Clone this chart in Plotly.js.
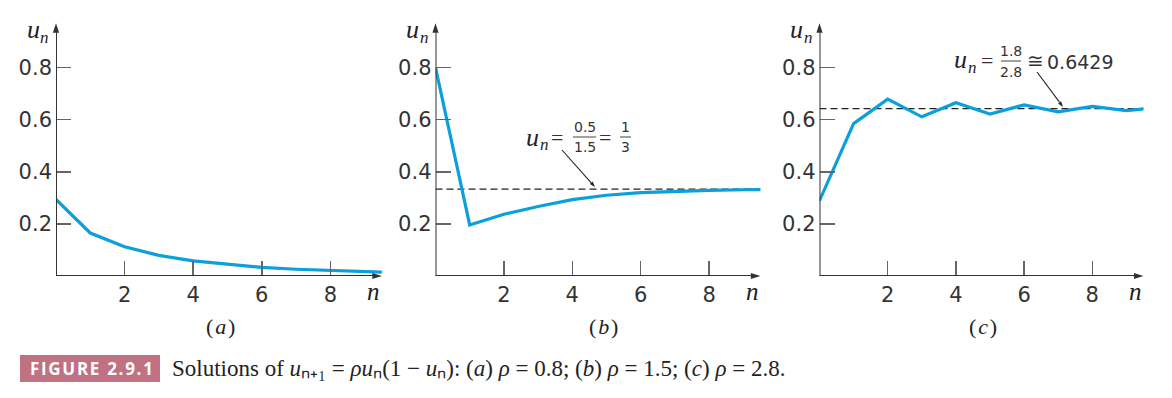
<!DOCTYPE html>
<html>
<head>
<meta charset="utf-8">
<script src="https://cdn.plot.ly/plotly-3.0.1.min.js"></script>
<style>html,body{margin:0;padding:0;background:#fff;}#chart{width:1172px;height:398px;}</style>
</head>
<body>
<div id="chart"></div>
<script>
// Data
const n = [0, 1, 2, 3, 4, 5, 6, 7, 8, 9, 10];
const uA = [0.294, 0.165, 0.112, 0.079, 0.058, 0.044, 0.033, 0.026, 0.020, 0.016, 0.0125];
const uB = [0.800, 0.196, 0.237, 0.267, 0.293, 0.310, 0.320, 0.326, 0.329, 0.331, 0.332];
const uC = [0.289, 0.585, 0.679, 0.611, 0.665, 0.622, 0.657, 0.630, 0.651, 0.635, 0.647];
const eqB = 1 / 3;
const eqC = 1.8 / 2.8;
const xTicks = [2, 4, 6, 8];
const yTicks = [0.2, 0.4, 0.6, 0.8];
const yTickText = ['0.2', '0.4', '0.6', '0.8'];
const panelLabels = ['(\u200a<i>a</i>\u200a)', '(\u200a<i>b</i>\u200a)', '(\u200a<i>c</i>\u200a)'];

const W = 1172, H = 398;
const px = x => x / W;
const py = y => 1 - y / H;

const XMAX = 9.5, YMAX = 0.97;
const yBottom = 276, yUnit = 260.5, yTop = yBottom - YMAX * yUnit;
const panels = [
  {x0: 56, xu: 34.3, u: uA, lab: 220},
  {x0: 435.5, xu: 34.2, u: uB, lab: 603},
  {x0: 819.5, xu: 34.1, u: uC, lab: 983}
];

const lineColor = '#0b9fdb';
const axisColor = '#333333';
const sans = 'DejaVu Sans, Verdana, sans-serif';
const serif = 'Liberation Serif, Times New Roman, serif';

const data = [];
const layout = {
  width: W, height: H,
  margin: {l: 0, r: 0, t: 0, b: 0},
  paper_bgcolor: '#fff', plot_bgcolor: 'rgba(0,0,0,0)',
  showlegend: false,
  annotations: [], shapes: []
};

function txt(x, y, t, size, fam, anchor, color) {
  layout.annotations.push({x: px(x), y: py(y), xref: 'paper', yref: 'paper', text: t,
    showarrow: false, xanchor: anchor || 'center', yanchor: 'middle',
    font: {family: fam || sans, size: size, color: color || '#333'}});
}
// italic u with subscript n, drawn as two texts
function uN(xc, yc) {
  txt(xc, yc, '<i>u</i>', 26, serif, 'center', '#222');
  txt(xc + 11.5, yc + 7, '<i>n</i>', 17, serif, 'center', '#222');
}

panels.forEach((p, i) => {
  const sfx = i === 0 ? '' : String(i + 1);
  const xr = 'x' + sfx, yr = 'y' + sfx;
  p.x1 = p.x0 + XMAX * p.xu;
  p.xr = xr; p.yr = yr;
  data.push({
    x: n, y: p.u, xaxis: xr, yaxis: yr,
    type: 'scatter', mode: 'lines',
    line: {color: lineColor, width: 3.2}, hoverinfo: 'skip'
  });
  layout['xaxis' + sfx] = {
    domain: [px(p.x0), px(p.x1)], range: [0, XMAX], anchor: yr,
    showgrid: false, zeroline: false, showline: false,
    tickmode: 'array', tickvals: xTicks, ticktext: xTicks.map(String),
    ticks: 'inside', ticklen: 15, tickwidth: 1.5, tickcolor: '#666',
    tickfont: {family: sans, size: 21, color: '#333'}, fixedrange: true, ticklabelstandoff: 4
  };
  layout['yaxis' + sfx] = {
    domain: [py(yBottom), py(yTop)], range: [0, YMAX], anchor: xr,
    showgrid: false, zeroline: false, showline: false,
    tickmode: 'array', tickvals: yTicks, ticktext: yTickText,
    ticks: 'inside', ticklen: 15, tickwidth: 1.5, tickcolor: '#666',
    tickfont: {family: sans, size: 21, color: '#333'}, fixedrange: true, ticklabelstandoff: 3
  };
  // axes lines
  layout.shapes.push({type: 'line', xref: xr, yref: yr, x0: 0, x1: XMAX * 0.985, y0: 0, y1: 0,
    line: {color: axisColor, width: 2}});
  layout.shapes.push({type: 'line', xref: xr, yref: yr, x0: 0, x1: 0, y0: 0, y1: YMAX * 0.985,
    line: {color: axisColor, width: 2}});
  // arrowheads
  data.push({
    x: [XMAX, 0], y: [0, YMAX], xaxis: xr, yaxis: yr, type: 'scatter', mode: 'markers',
    cliponaxis: false, hoverinfo: 'skip',
    marker: {symbol: 'arrow', size: 10, angle: [90, 0], color: axisColor, line: {width: 0}}
  });
  // axis labels
  uN(p.x0 - 23, 30);
  txt(p.x1 - 8, 291, '<i>n</i>', 25, serif, 'center', '#222');
  txt(p.lab, 326, panelLabels[i], 22, serif, 'center', '#222');
});

// dashed equilibrium lines
layout.shapes.push({type: 'line', xref: 'x2', yref: 'y2', x0: 0, x1: XMAX, y0: eqB, y1: eqB,
  line: {color: '#222', width: 1.2, dash: '7px,4px'}, layer: 'below'});
layout.shapes.push({type: 'line', xref: 'x3', yref: 'y3', x0: 0, x1: XMAX, y0: eqC, y1: eqC,
  line: {color: '#222', width: 1.2, dash: '7px,4px'}, layer: 'below'});

function bar(x0, x1, y) {
  layout.shapes.push({type: 'line', xref: 'paper', yref: 'paper', x0: px(x0), x1: px(x1),
    y0: py(y), y1: py(y), line: {color: '#444', width: 1}});
}
function pointer(p, xt, yt, xh, yh) {
  const dx = xh - xt, dy = yh - yt, L = Math.hypot(dx, dy);
  const back = 6;
  const xb = xh - dx / L * back, yb = yh - dy / L * back;
  layout.shapes.push({type: 'line', xref: 'paper', yref: 'paper', x0: px(xt), y0: py(yt),
    x1: px(xb), y1: py(yb), line: {color: '#222', width: 1.1}});
  const ang = Math.atan2(dx, -dy) * 180 / Math.PI;
  data.push({
    x: [(xh - p.x0) / p.xu], y: [(yBottom - yh) / yUnit], xaxis: p.xr, yaxis: p.yr,
    type: 'scatter', mode: 'markers', cliponaxis: false, hoverinfo: 'skip',
    marker: {symbol: 'arrow', size: 6, angle: ang, color: '#222', line: {width: 0}}
  });
}

// annotation (b): u_n = 0.5/1.5 = 1/3
uN(532.5, 137);
txt(557, 137, '=', 22, serif);
txt(584.5, 127, '0.5', 14);
bar(573, 596, 137);
txt(584.5, 146.5, '1.5', 14);
txt(605, 137, '=', 22, serif);
txt(625.5, 127, '1', 14);
bar(620, 631, 137);
txt(625.5, 146.5, '3', 14);
pointer(panels[1], 562, 150, 595, 187);

// annotation (c): u_n = 1.8/2.8 ≅ 0.6429
uN(960.5, 60);
txt(987, 61, '=', 22, serif);
txt(1011, 51, '1.8', 14);
bar(1001, 1021, 61);
txt(1011, 71.5, '2.8', 14);
txt(1035, 61, '≅', 20, sans);
txt(1045, 62, '0.6429', 19, sans, 'left');
pointer(panels[2], 1037, 72, 1063, 107);

// caption
layout.shapes.push({type: 'rect', xref: 'paper', yref: 'paper', x0: px(20), x1: px(160),
  y0: py(355), y1: py(382), fillcolor: '#c07283', line: {width: 0}});
txt(91, 368.5, '<b>' + 'FIGURE 2.9.1'.split('').join('\u200a') + '</b>', 17,
  'Open Sans, sans-serif', 'center', '#fff');
txt(170, 368, 'Solutions of <i>u</i>\u2099\u208a\u2081 = <i>ρu</i>\u2099(1 − <i>u</i>\u2099): (<i>a</i>) <i>ρ</i> = 0.8; (<i>b</i>) <i>ρ</i> = 1.5; (<i>c</i>) <i>ρ</i> = 2.8.',
  23, serif, 'left', '#222');

Plotly.newPlot('chart', data, layout, {displayModeBar: false, staticPlot: true});
</script>
</body>
</html>
